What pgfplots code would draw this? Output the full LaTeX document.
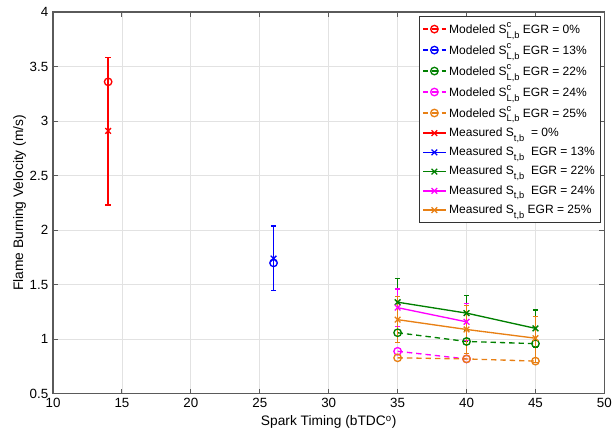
\documentclass[border=0pt]{standalone}
\usepackage{pgfplots}
\pgfplotsset{compat=1.18}
\usepackage{fontspec}
\setmainfont{Liberation Sans}
\definecolor{mred}{RGB}{255,0,0}
\definecolor{mblue}{RGB}{0,0,255}
\definecolor{mgreen}{RGB}{0,128,0}
\definecolor{mmag}{RGB}{255,0,255}
\definecolor{morange}{RGB}{232,128,20}
\definecolor{axgrey}{RGB}{90,90,90}
\definecolor{gridgrey}{RGB}{226,226,226}

\newcommand{\Smod}{S\rlap{\raisebox{0.85ex}{\scriptsize c}}\raisebox{-0.75ex}{\scriptsize L,b}}
\newcommand{\Smeas}{S\raisebox{-0.75ex}{\scriptsize t,b}}

\pgfplotsset{
  modeled/.style={dashed, dash pattern=on 4pt off 3pt, line width=1pt,
    mark=o, mark size=2.8pt, mark options={solid, line width=1pt}},
  measured/.style={solid, line width=1pt, mark=x, mark size=3pt,
    mark options={solid, line width=1pt},
    error bars/y dir=both, error bars/y explicit,
    error bars/error bar style={solid, line width=1pt},
    error bars/error mark options={rotate=90, mark size=2pt, line width=1pt}},
}

\begin{document}
\begin{tikzpicture}
\begin{axis}[
  scale only axis,
  width=413pt, height=286pt,
  xmin=10, xmax=50, ymin=0.5, ymax=4,
  xtick={10,15,...,50},
  ytick={0.5,1,...,4},
  yticklabels={0.5,1,1.5,2,2.5,3,3.5,4},
  grid=major,
  grid style={gridgrey, line width=0.6pt},
  axis line style={axgrey, line width=0.8pt},
  tick style={axgrey, line width=0.8pt},
  tick align=inside,
  major tick length=4pt,
  tick label style={/pgf/number format/assume math mode=true, font=\fontsize{10}{12}\selectfont, black},
  label style={font=\fontsize{10.3}{12}\selectfont},
  xlabel={Spark Timing (bTDC\textsuperscript{o})},
  ylabel={Flame Burning Velocity (m/s)},
  xlabel style={yshift=1pt},
  ylabel style={yshift=-4pt},
  legend cell align=left,
  legend style={at={(0.993,0.99)}, anchor=north east, draw=black!80,
    line width=0.6pt, fill=white,
    font=\fontsize{9}{10.5}\selectfont, row sep=2.4pt,
    inner xsep=2pt, inner ysep=3pt},
]
% modeled
\addplot[modeled, mred] coordinates {(14,3.36)};
\addplot[modeled, mblue] coordinates {(26,1.70)};
\addplot[modeled, mgreen] coordinates {(35,1.06) (40,0.98) (45,0.96)};
\addplot[modeled, mmag] coordinates {(35,0.89) (40,0.82)};
\addplot[modeled, morange] coordinates {(35,0.83) (40,0.82) (45,0.80)};
% measured
\addplot[measured, mred] table[x=x, y=y, y error plus=ep, y error minus=em] {
x y ep em
14 2.91 0.67 0.68
};
\addplot[measured, mblue] table[x=x, y=y, y error plus=ep, y error minus=em] {
x y ep em
26 1.74 0.30 0.29
};
\addplot[measured, mgreen] table[x=x, y=y, y error plus=ep, y error minus=em] {
x y ep em
35 1.34 0.22 0.22
40 1.24 0.16 0.16
45 1.10 0.17 0.17
};
\addplot[measured, mmag] table[x=x, y=y, y error plus=ep, y error minus=em] {
x y ep em
35 1.29 0.17 0.17
40 1.16 0.17 0.17
};
\addplot[measured, morange] table[x=x, y=y, y error plus=ep, y error minus=em] {
x y ep em
35 1.18 0.21 0.21
40 1.09 0.22 0.22
45 1.01 0.20 0.22
};
\legend{
  Modeled \Smod{} EGR = 0\%,
  Modeled \Smod{} EGR = 13\%,
  Modeled \Smod{} EGR = 22\%,
  Modeled \Smod{} EGR = 24\%,
  Modeled \Smod{} EGR = 25\%,
  Measured \Smeas{}\ \ = 0\%,
  Measured \Smeas{}\ \ EGR = 13\%,
  Measured \Smeas{}\ \ EGR = 22\%,
  Measured \Smeas{}\ \ EGR = 24\%,
  Measured \Smeas{} EGR = 25\%}
\end{axis}
\pgfresetboundingbox
\path ([shift={(-39.7pt,-33pt)}]current axis.south west) rectangle ([shift={(7.2pt,9pt)}]current axis.north east);
\end{tikzpicture}
\end{document}
